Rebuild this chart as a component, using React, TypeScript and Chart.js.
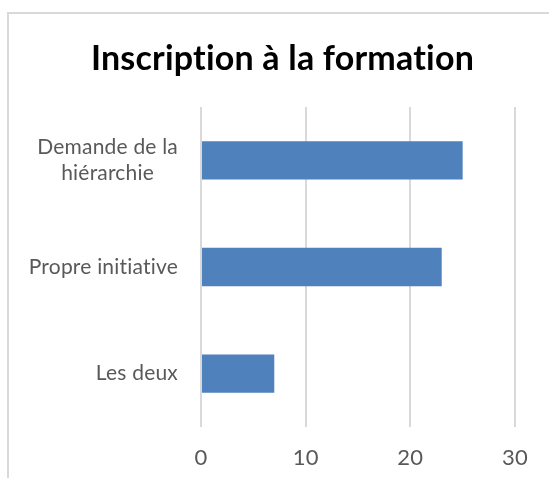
import React, { useEffect, useRef } from "react";
import { Chart, registerables } from "chart.js";

Chart.register(...registerables);

const chartTitle = "Inscription à la formation";
const categories: (string | string[])[] = [["Demande de la", "hiérarchie"], "Propre initiative", "Les deux"];
const values = [25, 23, 7];
const xMin = 0;
const xMax = 30;
const xStep = 10;

const labelFont = "21px Lato";
const labelColor = "#595959";
const labelLineHeight = 26.7;
const labelGap = 23;

const titlePlugin = {
  id: "customTitle",
  beforeDraw(chart: any) {
    chart.ctx.letterSpacing = "0.2px";
  },
  afterDraw(chart: any) {
    const ctx = chart.ctx;
    ctx.save();
    ctx.letterSpacing = "0.2px";
    ctx.font = "bold 34px Lato";
    ctx.fillStyle = "#000000";
    ctx.textAlign = "center";
    ctx.textBaseline = "alphabetic";
    ctx.fillText(chartTitle, 282.5, 70);

    // category labels: block right-aligned to the axis, lines centered within block
    const yScale = chart.scales.y;
    const right = chart.chartArea.left - labelGap;
    ctx.font = labelFont;
    ctx.fillStyle = labelColor;
    ctx.textBaseline = "middle";
    ctx.textAlign = "center";
    const labels = chart.data.labels as (string | string[])[];
    labels.forEach((lab, i) => {
      const lines = Array.isArray(lab) ? lab : [lab];
      const w = Math.max(...lines.map((l) => ctx.measureText(l).width));
      const cx = right - w / 2;
      const cy = yScale.getPixelForTick(i);
      const top = cy - ((lines.length - 1) * labelLineHeight) / 2;
      lines.forEach((l, j) => ctx.fillText(l, cx, top + j * labelLineHeight));
    });
    ctx.restore();
  },
};

export default function App() {
  const ref = useRef<HTMLCanvasElement | null>(null);

  useEffect(() => {
    if (!ref.current) return;
    const chart = new Chart(ref.current, {
      type: "bar",
      data: {
        labels: categories,
        datasets: [
          {
            data: values,
            backgroundColor: "#4F81BD",
            borderWidth: 0,
            categoryPercentage: 1,
            barPercentage: 0.36,
          },
        ],
      },
      plugins: [titlePlugin],
      options: {
        indexAxis: "y",
        animation: false,
        responsive: false,
        maintainAspectRatio: false,
        layout: { padding: { left: 8, right: 34, top: 107, bottom: 10 } },
        plugins: {
          legend: { display: false },
          tooltip: { enabled: false },
          title: { display: false },
        },
        scales: {
          x: {
            min: xMin,
            max: xMax,
            ticks: {
              stepSize: xStep,
              color: "#595959",
              font: { family: "Lato", size: 22, lineHeight: 1.2 },
              padding: 18,
            },
            grid: { color: "#d9d9d9", lineWidth: 2, drawTicks: false },
            border: { display: false },
            afterFit: (scale: any) => {
              scale.height = 41;
              scale.paddingLeft = 0;
              scale.paddingRight = 0;
            },
          },
          y: {
            ticks: { display: false },
            grid: { display: false, drawTicks: false },
            border: { display: false },
            afterFit: (scale: any) => {
              scale.width = 193;
              scale.paddingTop = 0;
              scale.paddingBottom = 0;
            },
          },
        },
      },
    });
    return () => chart.destroy();
  }, []);

  return (
    <div style={{ position: "fixed", left: 0, top: 0, width: 549, height: 478, overflow: "hidden", background: "#fff" }}>
      <div
        style={{
          position: "absolute",
          left: 7,
          top: 12,
          width: 560,
          height: 500,
          borderLeft: "2px solid #d9d9d9",
          borderTop: "2px solid #d9d9d9",
        }}
      />
      <canvas ref={ref} width={549} height={478} style={{ position: "absolute", left: 0, top: 0 }} />
    </div>
  );
}
